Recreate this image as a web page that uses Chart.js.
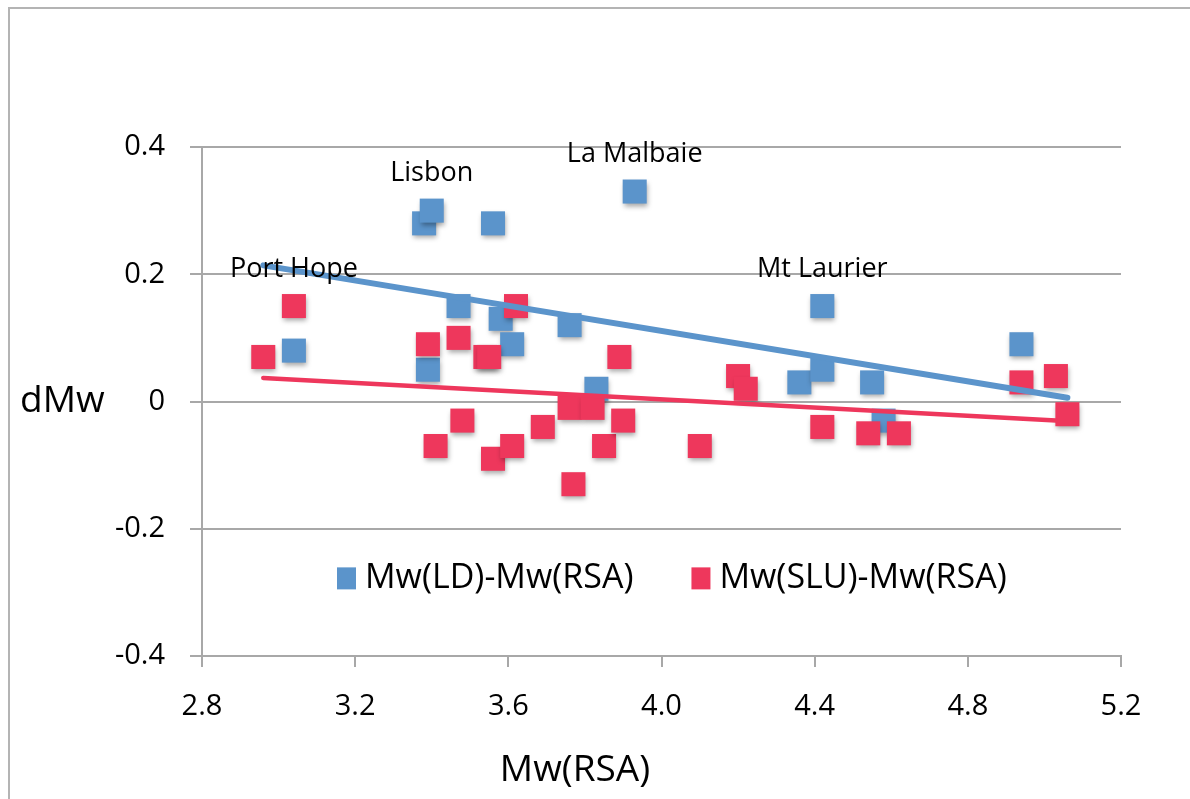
<!DOCTYPE html>
<html>
<head>
<meta charset="utf-8">
<title>dMw vs Mw(RSA)</title>
<script src="https://cdn.jsdelivr.net/npm/chart.js@4.4.1/dist/chart.umd.min.js"></script>
<style>
  html, body { margin: 0; padding: 0; background: #fff; }
  canvas { display: block; }
</style>
</head>
<body>
<canvas id="chart" width="1190" height="799"></canvas>
<script>
// Mw(LD) - Mw(RSA)
const ldX = [3.04, 3.38, 3.40, 3.39, 3.47, 3.56, 3.58, 3.61, 3.76, 3.83, 3.93, 4.36, 4.42, 4.42, 4.55, 4.58, 4.94];
const ldY = [0.08, 0.28, 0.30, 0.05, 0.15, 0.28, 0.13, 0.09, 0.12, 0.02, 0.33, 0.03, 0.15, 0.05, 0.03, -0.03, 0.09];

// Mw(SLU) - Mw(RSA)
const sluX = [2.96, 3.04, 3.39, 3.41, 3.47, 3.48, 3.54, 3.55, 3.56, 3.61, 3.62, 3.69, 3.76, 3.77,
              3.82, 3.85, 3.89, 3.90, 4.10, 4.20, 4.22, 4.42, 4.54, 4.62, 4.94, 5.03, 5.06];
const sluY = [0.07, 0.15, 0.09, -0.07, 0.10, -0.03, 0.07, 0.07, -0.09, -0.07, 0.15, -0.04, -0.01, -0.13,
              -0.01, -0.07, 0.07, -0.03, -0.07, 0.04, 0.02, -0.04, -0.05, -0.05, 0.03, 0.04, -0.02];

// linear trend end points
const ldTrendX = [2.96, 5.06];
const ldTrendY = [0.214, 0.006];
const sluTrendX = [2.96, 5.03];
const sluTrendY = [0.037, -0.030];

// named events: series (0 = LD, 1 = SLU) and point index
const siteNames = ['Port Hope', 'Lisbon', 'La Malbaie', 'Mt Laurier'];
const siteSeries = [1, 0, 0, 0];
const siteIndex = [1, 2, 10, 12];

const xTicks = [2.8, 3.2, 3.6, 4.0, 4.4, 4.8, 5.2];
const yTicks = [-0.4, -0.2, 0, 0.2, 0.4];

const BLUE = '#5b94cb';
const RED = '#ee375c';
const GRID = '#a8a8a8';
const FONT = '"Open Sans", sans-serif';

const toPts = (xs, ys) => xs.map((x, i) => ({ x: x, y: ys[i] }));

const extras = {
  id: 'extras',
  beforeDraw(chart) {
    const ctx = chart.ctx;
    ctx.save();
    ctx.fillStyle = '#fff';
    ctx.fillRect(0, 0, chart.width, chart.height);
    ctx.strokeStyle = '#b4b4b4';
    ctx.lineWidth = 2;
    ctx.strokeRect(9, 8, chart.width + 40, chart.height + 40);
    ctx.restore();
  },
  beforeDatasetDraw(chart, args) {
    const ctx = chart.ctx;
    ctx.save();
    if (chart.data.datasets[args.index].showLine !== true) {
      ctx.shadowColor = 'rgba(0,0,0,0.35)';
      ctx.shadowBlur = 5;
      ctx.shadowOffsetX = 1;
      ctx.shadowOffsetY = 3;
    }
  },
  afterDatasetDraw(chart) {
    chart.ctx.restore();
  },
  afterDraw(chart) {
    const ctx = chart.ctx;
    const ys = chart.scales.y;
    const area = chart.chartArea;
    ctx.save();
    ctx.fillStyle = '#000';

    // event names above their points
    ctx.font = '27px ' + FONT;
    ctx.textAlign = 'center';
    ctx.textBaseline = 'middle';
    siteNames.forEach((name, i) => {
      const pt = chart.getDatasetMeta(siteSeries[i]).data[siteIndex[i]];
      ctx.fillText(name, pt.x, pt.y - 37);
    });

    // axis titles
    ctx.font = '37px ' + FONT;
    ctx.textAlign = 'left';
    ctx.fillText('dMw', 20, ys.getPixelForValue(0));
    ctx.textAlign = 'center';
    ctx.fillText('Mw(RSA)', 575, 770);

    // legend inside the plot
    ctx.font = '34px ' + FONT;
    ctx.textAlign = 'left';
    const ly = ys.getPixelForValue(-0.278);
    let lx = area.left + 135;
    chart.data.datasets.slice(0, 2).forEach(ds => {
      ctx.fillStyle = ds.backgroundColor;
      ctx.fillRect(lx, ly - 11, 19, 22);
      ctx.fillStyle = '#000';
      ctx.fillText(ds.label, lx + 28, ly);
      lx += 28 + ctx.measureText(ds.label).width + 58;
    });
    ctx.restore();
  }
};

new Chart(document.getElementById('chart'), {
  type: 'scatter',
  data: {
    datasets: [
      {
        label: 'Mw(LD)-Mw(RSA)',
        data: toPts(ldX, ldY),
        backgroundColor: BLUE,
        borderWidth: 0,
        pointStyle: 'rect',
        pointRadius: 17,
        order: 4
      },
      {
        label: 'Mw(SLU)-Mw(RSA)',
        data: toPts(sluX, sluY),
        backgroundColor: RED,
        borderWidth: 0,
        pointStyle: 'rect',
        pointRadius: 17,
        order: 3
      },
      {
        label: 'LD trend',
        data: toPts(ldTrendX, ldTrendY),
        showLine: true,
        borderColor: BLUE,
        borderWidth: 6,
        borderCapStyle: 'round',
        pointRadius: 0,
        order: 2
      },
      {
        label: 'SLU trend',
        data: toPts(sluTrendX, sluTrendY),
        showLine: true,
        borderColor: RED,
        borderWidth: 4.5,
        borderCapStyle: 'round',
        pointRadius: 0,
        order: 1
      }
    ]
  },
  options: {
    responsive: false,
    animation: false,
    layout: { padding: { top: 147, right: 69, bottom: 0, left: 0 } },
    plugins: {
      legend: { display: false },
      tooltip: { enabled: false }
    },
    scales: {
      x: {
        type: 'linear',
        min: xTicks[0],
        max: xTicks[xTicks.length - 1],
        afterFit: s => { s.height = 143; },
        afterBuildTicks: s => { s.ticks = xTicks.map(v => ({ value: v })); },
        ticks: {
          callback: v => v.toFixed(1),
          font: { family: FONT, size: 29 },
          color: '#000',
          padding: 22,
          maxRotation: 0
        },
        grid: { drawOnChartArea: false, color: GRID, lineWidth: 2, tickLength: 11 },
        border: { display: true, color: GRID, width: 2 }
      },
      y: {
        min: yTicks[0],
        max: yTicks[yTicks.length - 1],
        afterFit: s => { s.width = 202; },
        afterBuildTicks: s => { s.ticks = yTicks.map(v => ({ value: v })); },
        ticks: {
          callback: v => Math.abs(v) < 1e-9 ? '0' : v.toFixed(1),
          font: { family: FONT, size: 29 },
          color: '#000',
          padding: 25
        },
        grid: { color: GRID, lineWidth: 2, tickLength: 12 },
        border: { display: true, color: GRID, width: 2 }
      }
    }
  },
  plugins: [extras]
});
</script>
</body>
</html>
